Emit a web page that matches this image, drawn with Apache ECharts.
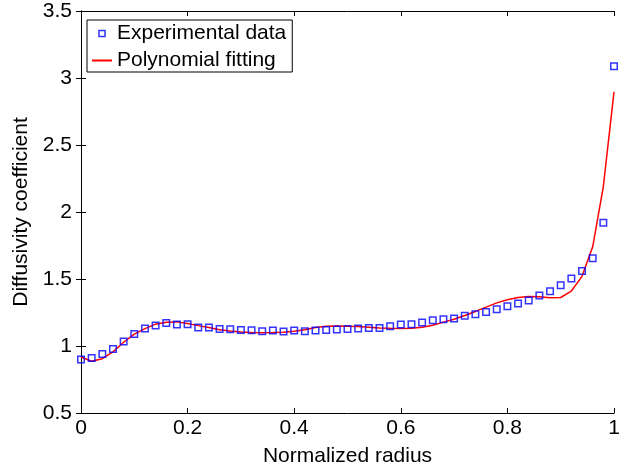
<!DOCTYPE html>
<html>
<head>
<meta charset="utf-8">
<script src="https://cdn.jsdelivr.net/npm/echarts@6/dist/echarts.min.js"></script>
<style>html,body{margin:0;padding:0;background:#fff}#c{width:625px;height:472px}</style>
</head>
<body>
<div id="c"></div>
<script>
var radius = [0.00,0.02,0.04,0.06,0.08,0.10,0.12,0.14,0.16,0.18,0.20,0.22,0.24,0.26,0.28,0.30,0.32,0.34,0.36,0.38,0.40,0.42,0.44,0.46,0.48,0.50,0.52,0.54,0.56,0.58,0.60,0.62,0.64,0.66,0.68,0.70,0.72,0.74,0.76,0.78,0.80,0.82,0.84,0.86,0.88,0.90,0.92,0.94,0.96,0.98,1.00];
var experimental = [0.900,0.911,0.941,0.978,1.033,1.090,1.130,1.153,1.172,1.160,1.162,1.138,1.138,1.127,1.125,1.120,1.118,1.110,1.115,1.108,1.115,1.110,1.115,1.120,1.123,1.127,1.130,1.135,1.135,1.148,1.160,1.162,1.175,1.192,1.200,1.205,1.225,1.237,1.254,1.274,1.297,1.317,1.339,1.377,1.409,1.454,1.504,1.560,1.655,1.920,3.087];
var fitting = [0.918,0.886,0.905,0.956,1.028,1.088,1.130,1.163,1.178,1.180,1.168,1.152,1.138,1.122,1.112,1.105,1.100,1.099,1.100,1.103,1.110,1.122,1.138,1.147,1.150,1.148,1.145,1.140,1.135,1.132,1.130,1.132,1.140,1.155,1.178,1.200,1.228,1.258,1.290,1.322,1.345,1.362,1.370,1.368,1.360,1.362,1.410,1.520,1.740,2.190,2.897];
var xTicks = [0, 0.2, 0.4, 0.6, 0.8, 1];
var yTicks = [0.5, 1, 1.5, 2, 2.5, 3, 3.5];
var seriesNames = ['Experimental data', 'Polynomial fitting'];

var font = 'Liberation Sans, Arial, sans-serif';
function pairs(xs, ys){ return xs.map(function(x,i){ return [x, ys[i]]; }); }
function fmt(v){ return String(v); }

var squareIcon = 'path://M0,0L0,0M20,7L20,7M7,0.5L13,0.5L13,6.5L7,6.5Z';

var chart = echarts.init(document.getElementById('c'), null, {renderer:'canvas'});
var axisLine = {show:true, lineStyle:{color:'#000', width:1}};
chart.setOption({
  animation:false,
  backgroundColor:'#fff',
  grid:{left:81, right:11, top:11, bottom:59, containLabel:false},
  legend:{
    orient:'vertical', left:87, top:20,
    padding:[3,6,1,4],
    borderColor:'#000', borderWidth:1, backgroundColor:'#fff',
    itemWidth:20, itemHeight:7, itemGap:6,
    textStyle:{fontFamily:font, fontSize:21, color:'#000'},
    data:[
      {name:seriesNames[0], icon:squareIcon, itemStyle:{color:'#fff', borderColor:'#0000ff', borderWidth:1.5}},
      {name:seriesNames[1], itemStyle:{color:'rgba(0,0,0,0)', borderColor:'rgba(0,0,0,0)', borderWidth:0, opacity:0}}
    ]
  },
  xAxis:[{
    type:'value', min:0, max:1, interval:0.2,
    name:'Normalized radius', nameLocation:'middle', nameGap:33,
    nameTextStyle:{fontFamily:font, fontSize:21, color:'#000'},
    axisLine:axisLine,
    axisTick:{show:true, inside:true, length:5, lineStyle:{color:'#000'}},
    axisLabel:{fontFamily:font, fontSize:21, color:'#000', margin:5, formatter:fmt},
    splitLine:{show:false}
  },{
    type:'value', position:'top', min:0, max:1, interval:0.2,
    axisLine:axisLine,
    axisTick:{show:true, inside:true, length:5, lineStyle:{color:'#000'}},
    axisLabel:{show:false}, splitLine:{show:false}
  }],
  yAxis:[{
    type:'value', min:0.5, max:3.5, interval:0.5,
    name:'Diffusivity coefficient', nameLocation:'middle', nameGap:45,
    nameTextStyle:{fontFamily:font, fontSize:21, color:'#000'},
    axisLine:axisLine,
    axisTick:{show:true, inside:true, length:5, lineStyle:{color:'#000'}},
    axisLabel:{fontFamily:font, fontSize:21, color:'#000', margin:9, formatter:fmt},
    splitLine:{show:false}
  },{
    type:'value', position:'right', min:0.5, max:3.5, interval:0.5,
    axisLine:axisLine,
    axisTick:{show:true, inside:true, length:5, lineStyle:{color:'#000'}},
    axisLabel:{show:false}, splitLine:{show:false}
  }],
  series:[{
    name:seriesNames[0], type:'scatter', xAxisIndex:0, yAxisIndex:0,
    symbol:'rect', symbolSize:6.5,
    itemStyle:{color:'rgba(255,255,255,0)', borderColor:'#0000ff', borderWidth:1.5},
    data:pairs(radius, experimental), z:3
  },{
    name:seriesNames[1], type:'line', xAxisIndex:0, yAxisIndex:0,
    symbol:'none', smooth:false,
    lineStyle:{color:'#ff0000', width:1.5},
    itemStyle:{color:'#ff0000'},
    data:pairs(radius, fitting), z:2
  }]
});
</script>
</body>
</html>
